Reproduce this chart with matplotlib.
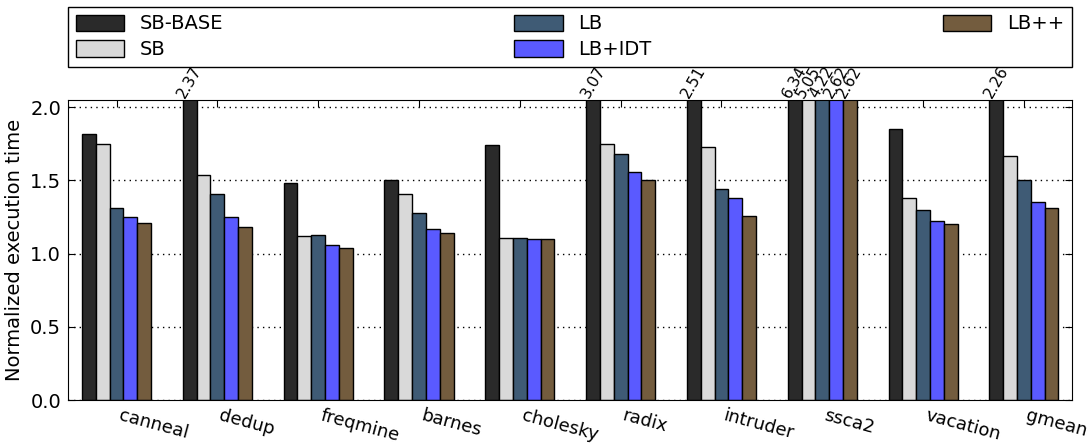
import numpy as np
import matplotlib
matplotlib.use("Agg")
import matplotlib.pyplot as plt

benchmarks = ['canneal', 'dedup', 'freqmine', 'barnes', 'cholesky',
              'radix', 'intruder', 'ssca2', 'vacation', 'gmean']
sb_base = [1.82, 2.37, 1.48, 1.50, 1.74, 3.07, 2.51, 6.34, 1.85, 2.26]
sb = [1.75, 1.54, 1.12, 1.41, 1.11, 1.75, 1.73, 5.05, 1.38, 1.67]
lb = [1.31, 1.41, 1.13, 1.28, 1.11, 1.68, 1.44, 4.22, 1.30, 1.50]
lb_idt = [1.25, 1.25, 1.06, 1.17, 1.10, 1.56, 1.38, 2.62, 1.22, 1.35]
lb_pp = [1.21, 1.18, 1.04, 1.14, 1.10, 1.50, 1.26, 2.62, 1.20, 1.31]

series = [sb_base, sb, lb, lb_idt, lb_pp]
names = ['SB-BASE', 'SB', 'LB', 'LB+IDT', 'LB++']
colors = ['#2a2a2a', '#d9d9d9', '#3f5b75', '#5a5aff', '#735c3e']

plt.rcParams['font.family'] = 'DejaVu Sans'
plt.rcParams['font.size'] = 13

fig = plt.figure(figsize=(10.89, 4.48), dpi=100)
ax = fig.add_axes([68 / 1089, 48 / 448, 1004 / 1089, 300 / 448])

ymax = 2.05
w = 0.137
x = np.arange(len(benchmarks))
for k, (vals, name, c) in enumerate(zip(series, names, colors)):
    pos = x + k * w
    ax.bar(pos, vals, w, align='edge', color=c, edgecolor='black',
           linewidth=1, label=name, zorder=2)
    for p, v in zip(pos, vals):
        if v > ymax:
            ax.text(p + w / 2, ymax, '%.2f' % v, rotation=60,
                    ha='center', va='bottom', fontsize=11)

ax.set_xlim(-0.139, 9.82)
ax.set_ylim(0, ymax)
ax.set_yticks([0.0, 0.5, 1.0, 1.5, 2.0])
ax.set_yticklabels(['0.0', '0.5', '1.0', '1.5', '2.0'])
ax.set_xticks(x + 2.5 * w)
ax.set_xticklabels(benchmarks, rotation=-15, ha='left',
                   rotation_mode='default')
ax.tick_params(direction='in', top=True, right=True, length=5)
ax.tick_params(axis='x', pad=5, labelsize=13)
ax.tick_params(axis='y', pad=5, labelsize=14)
ax.yaxis.grid(True, linestyle=(0, (1, 3)), color='black', linewidth=1,
              zorder=0)
ax.set_axisbelow(True)
ax.set_ylabel('Normalized execution time', fontsize=14)

leg = ax.legend(loc='lower left', ncol=3, mode='expand', borderaxespad=0,
                bbox_to_anchor=(68 / 1089, 1 - 67 / 448, 1004 / 1089, 59 / 448),
                bbox_transform=fig.transFigure, fancybox=False,
                framealpha=1, edgecolor='black', fontsize=14,
                handlelength=2.5, handleheight=0.9, labelspacing=0.35)
leg.get_frame().set_linewidth(1)

fig.savefig('out.png', dpi=100)
